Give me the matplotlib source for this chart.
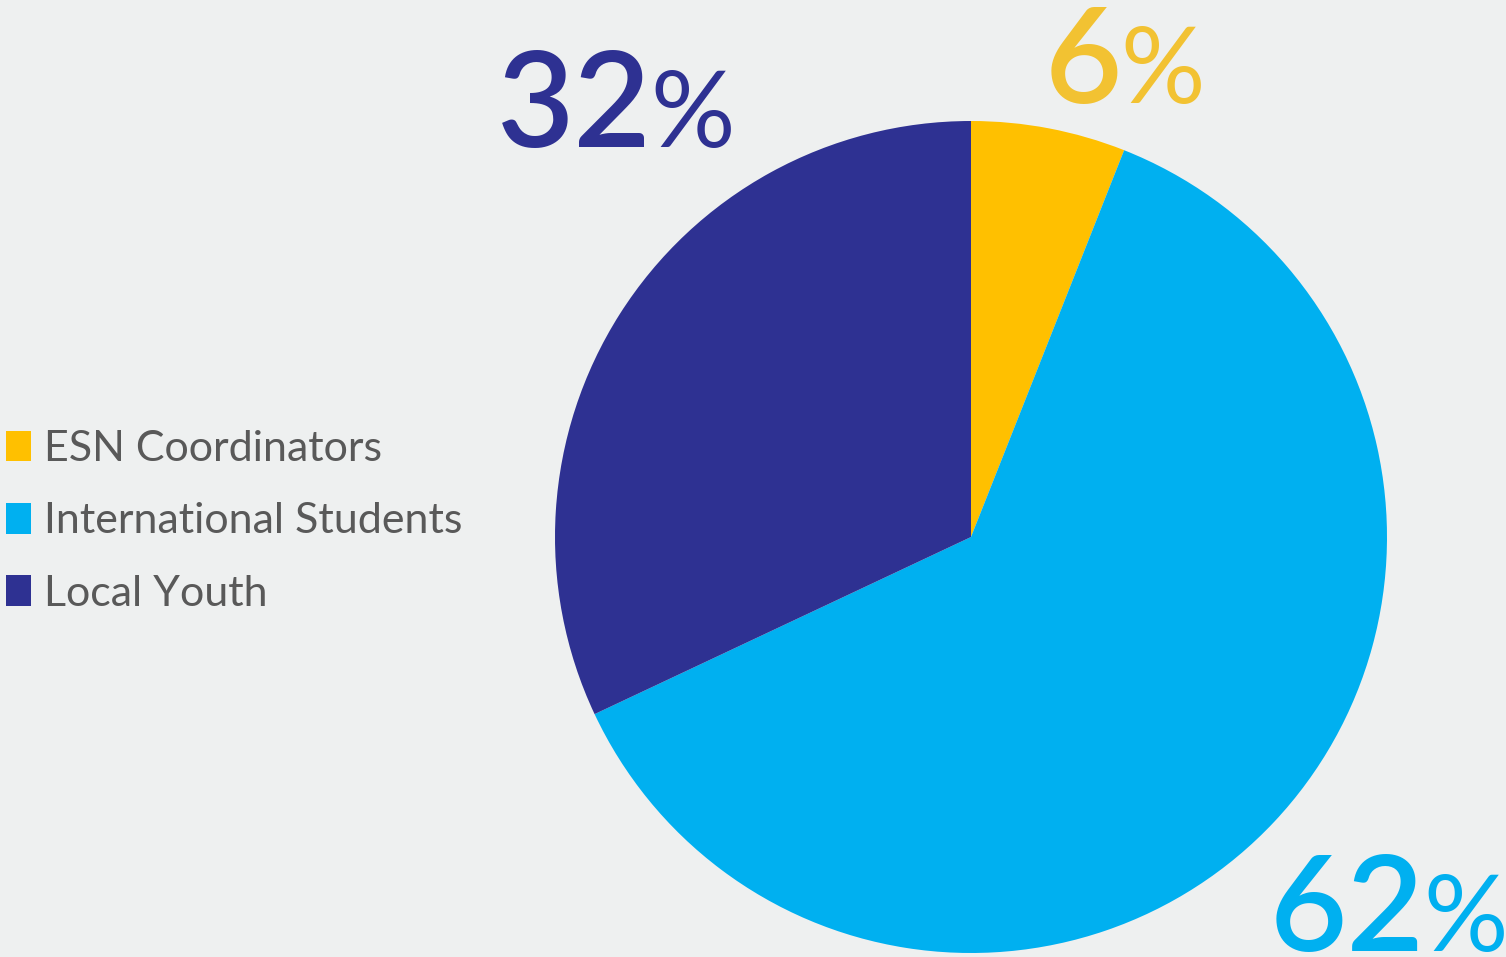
import matplotlib
matplotlib.use("Agg")
import matplotlib.pyplot as plt

# data
labels = ["ESN Coordinators", "International Students", "Local Youth"]
shares = [6, 62, 32]
colors = ["#FFC000", "#00B0F0", "#2E3192"]
label_colors = ["#F2C232", "#00B0F0", "#2E3192"]

W, H = 1506, 957
fig = plt.figure(figsize=(W / 100, H / 100), dpi=100)
fig.patch.set_facecolor("#EEF0F0")

# pie centred at (971, 537) px, radius 416 px
cx, cy, r = 971, 537, 416
ax = fig.add_axes([(cx - r) / W, (H - cy - r) / H, 2 * r / W, 2 * r / H])
wedges, _ = ax.pie(shares, colors=colors, startangle=90, counterclock=False,
                   radius=1.0, wedgeprops=dict(linewidth=0))
ax.set_xlim(-1, 1)
ax.set_ylim(-1, 1)
ax.set_aspect("equal")
ax.axis("off")

# percentage labels: (digits x, % x, baseline y) in pixels
label_pos = [(1045, 1120, 103), (1270, 1423, 951), (497, 650, 147)]
for val, col, (xd, xp, yb) in zip(shares, label_colors, label_pos):
    fig.text(xd / W, 1 - yb / H, f"{val}", fontsize=96, fontweight=600,
             family="Lato", color=col, ha="left", va="baseline")
    fig.text(xp / W, 1 - yb / H, "%", fontsize=76, family="Lato",
             color=col, ha="left", va="baseline")

leg = fig.legend(wedges, labels, loc="upper left",
                 bbox_to_anchor=(6 / W, 1 - 430 / H), frameon=False,
                 prop={"family": "Lato", "size": 31}, handlelength=0.58,
                 handleheight=0.72, handletextpad=0.3, labelspacing=0.8,
                 borderaxespad=0, borderpad=0.0)
for t in leg.get_texts():
    t.set_color("#595959")

fig.savefig("out.png", dpi=100, facecolor=fig.get_facecolor())
